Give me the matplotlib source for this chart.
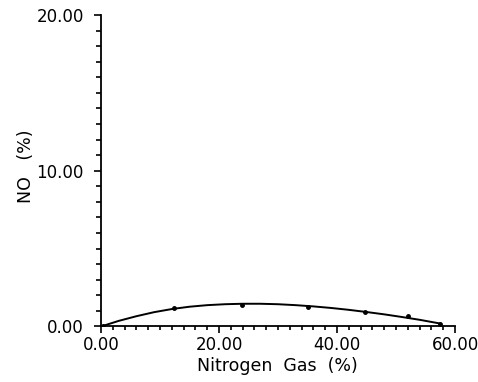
import matplotlib
matplotlib.use("Agg")
import matplotlib.pyplot as plt
from matplotlib.ticker import MultipleLocator, FormatStrFormatter

# measured points
nitrogen = [0.3, 12.3, 23.9, 35.0, 44.7, 52.0, 57.5]
no_pct = [0.02, 1.20, 1.38, 1.22, 0.92, 0.66, 0.15]

# fitted curve
curve_x = [0.0, 3.0, 6.0, 9.0, 12.0, 15.0, 18.0, 21.0, 24.0, 27.0, 30.0,
           33.0, 36.0, 39.0, 42.0, 45.0, 48.0, 51.0, 54.0, 57.5]
curve_y = [0.0, 0.36, 0.66, 0.92, 1.12, 1.27, 1.37, 1.43, 1.46, 1.46, 1.43,
           1.37, 1.29, 1.19, 1.07, 0.93, 0.78, 0.61, 0.43, 0.19]

fig = plt.figure(figsize=(4.78, 3.82), dpi=100)
ax = fig.add_axes([0.2113, 0.1453, 0.7406, 0.8154])

ax.plot(curve_x, curve_y, color="black", linewidth=1.4)
ax.plot(nitrogen, no_pct, "o", color="black", markersize=2.5)

ax.set_xlim(0, 60)
ax.set_ylim(0, 20)

ax.spines["top"].set_visible(False)
ax.spines["right"].set_visible(False)
for s in ("left", "bottom"):
    ax.spines[s].set_linewidth(1.3)

ax.xaxis.set_major_locator(MultipleLocator(20))
ax.xaxis.set_minor_locator(MultipleLocator(2))
ax.yaxis.set_major_locator(MultipleLocator(10))
ax.yaxis.set_minor_locator(MultipleLocator(1))
ax.xaxis.set_major_formatter(FormatStrFormatter("%.2f"))
ax.yaxis.set_major_formatter(FormatStrFormatter("%.2f"))

ax.tick_params(which="major", direction="out", length=5, width=1.2,
               labelsize=12)
ax.tick_params(which="minor", direction="out", length=3.6, width=1.2)
ax.tick_params(axis="x", which="minor", length=3)
ax.tick_params(axis="x", which="major", pad=1.5)
ax.tick_params(axis="y", which="major", pad=7.5)

ax.set_xlabel("Nitrogen  Gas  (%)", fontsize=12.5)
ax.set_ylabel("NO   (%)", fontsize=12.5)
ax.xaxis.set_label_coords(0.497, -0.097)
ax.yaxis.set_label_coords(-0.186, 0.515)

fig.savefig("out.png", dpi=100)
